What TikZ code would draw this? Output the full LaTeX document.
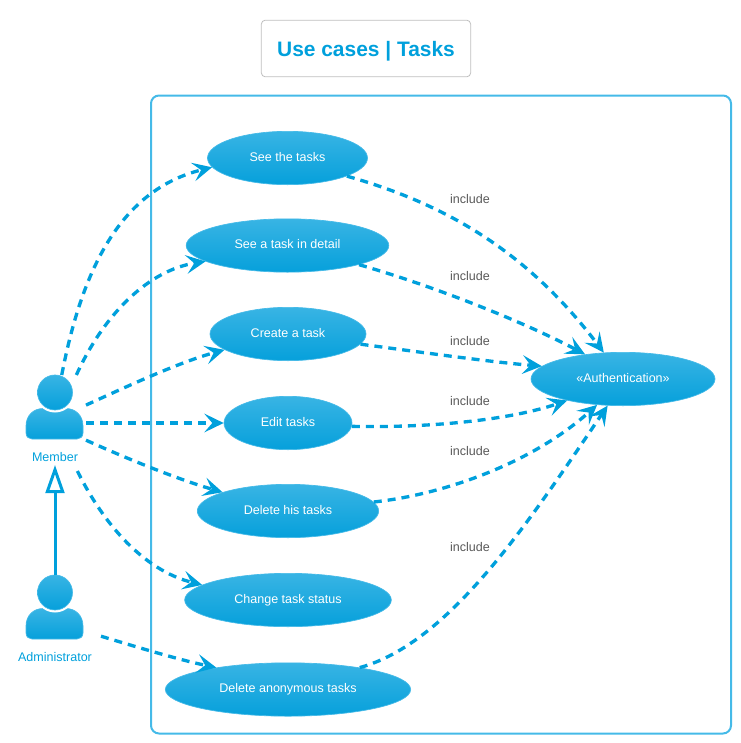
\documentclass[tikz,border=0pt]{standalone}
\usepackage{fontspec}
\setmainfont{Liberation Sans}
\usetikzlibrary{arrows.meta,shapes.geometric}
\definecolor{linkblue}{HTML}{00A0DC}
\definecolor{edgeblue}{HTML}{45BAE8}
\definecolor{topblue}{HTML}{38B4E4}
\definecolor{lowblue}{HTML}{06A0DB}
\tikzset{
  usecase/.style={ellipse,draw=edgeblue,line width=0.5pt,top color=topblue,bottom color=lowblue,text=white,font=\fontsize{9.4}{11}\selectfont,minimum height=40pt,inner sep=0pt,text height=5pt,text depth=0pt},
  actorbox/.style={rectangle,minimum height=72pt,inner sep=0pt,outer sep=0pt},
  actorname/.style={text=linkblue,font=\fontsize{9.4}{11}\selectfont,inner sep=0pt},
  includetext/.style={text=black!65,font=\fontsize{9.4}{11}\selectfont,inner sep=0pt},
  link/.style={linkblue,line width=2.5pt,dash pattern=on 6pt off 4.5pt,-{Stealth[length=14.5pt,width=14pt,inset=6pt]}}
}
\begin{document}
\begin{tikzpicture}[x=0.75pt,y=-0.75pt]
  \useasboundingbox (0,0) rectangle (740,743);
  \node[draw=black!25,line width=0.6pt,rounded corners=3pt,minimum width=157pt,minimum height=42.5pt,inner sep=0pt,text=linkblue,text height=12.3pt,text depth=0pt,font=\fontsize{15.7}{18}\selectfont\bfseries] (title) at (366,48.5) {Use cases | Tasks};
  \draw[edgeblue,line width=1.5pt,rounded corners=6pt] (151,95.5) rectangle (731,733.5);

  \foreach \y in {0,200}{
    \begin{scope}[shift={(0,\y)}]
      \shade[draw=edgeblue,line width=0.5pt,top color=topblue,bottom color=lowblue] (26,426) .. controls (26,415) and (34,408.5) .. (43,408.5) -- (66,408.5) .. controls (75,408.5) and (83,415) .. (83,426) -- (83,433) .. controls (83,437) and (80,439) .. (77,439) -- (32,439) .. controls (29,439) and (26,437) .. (26,433) -- cycle;
      \fill[white] (55,392.5) circle (20);
      \shade[draw=edgeblue,line width=0.5pt,top color=topblue,bottom color=lowblue] (55,392.5) circle (17.5);
    \end{scope}
  }
  \node[actorbox,minimum width=46.5pt] (member) at (55,423) {};
  \node[actorbox,minimum width=69pt] (admin) at (55,623) {};
  \node[actorname] (membername) at (55,457) {Member};
  \node[actorname] (adminname) at (55,657) {Administrator};

  \node[usecase,minimum width=120pt] (seetasks) at (287.5,158) {See the tasks};
  \node[usecase,minimum width=152pt] (detail) at (287.5,245.5) {See a task in detail};
  \node[usecase,minimum width=117pt] (create) at (288,334) {Create a task};
  \node[usecase,minimum width=96pt] (edit) at (288,423) {Edit tasks};
  \node[usecase,minimum width=136pt] (delete) at (288,511) {Delete his tasks};
  \node[usecase,minimum width=155pt] (change) at (288,600) {Change task status};
  \node[usecase,minimum width=184pt] (anon) at (288,689.5) {Delete anonymous tasks};
  \node[usecase,minimum width=138pt] (auth) at (623,379) {«Authentication»};

  \draw[link] (member.82) .. controls (82,270) and (120,190) .. (seetasks.187);
  \draw[link] (member.66) .. controls (105,312) and (150,270) .. (detail.191);
  \draw[link] (member.30) .. controls (130,385) and (180,362) .. (create.194);
  \draw[link] (member) -- (edit);
  \draw[link] (member.331) .. controls (130,460) and (180,480) .. (delete.164);
  \draw[link] (member.295) .. controls (108,533) and (150,572) .. (change.170);
  \draw[link] (admin.344) .. controls (140,648) and (180,660) .. (anon.163);
  \draw[linkblue,line width=2.25pt,shorten >=-4.5pt,-{Triangle[open,length=21pt,width=14pt,fill=white]}] (admin) -- (member);

  \draw[link] (seetasks.343) .. controls (450,205) and (530,255) .. (auth.126);
  \draw[link] (detail.345) .. controls (430,285) and (520,320) .. (auth.147);
  \draw[link] (create.352) .. controls (420,352) and (490,362) .. (auth.171);
  \draw[link] (edit.357) .. controls (430,428) and (510,420) .. (auth.201);
  \draw[link] (delete.6) .. controls (440,495) and (530,465) .. (auth.225);
  \draw[link] (anon.17) .. controls (450,643) and (530,520) .. (auth.240);

  \node[includetext] (inca) at (470,199) {include};
  \node[includetext] (incb) at (470,276) {include};
  \node[includetext] (incc) at (470,341) {include};
  \node[includetext] (incd) at (470,401) {include};
  \node[includetext] (ince) at (470,451) {include};
  \node[includetext] (incf) at (470,547) {include};
\end{tikzpicture}
\end{document}
